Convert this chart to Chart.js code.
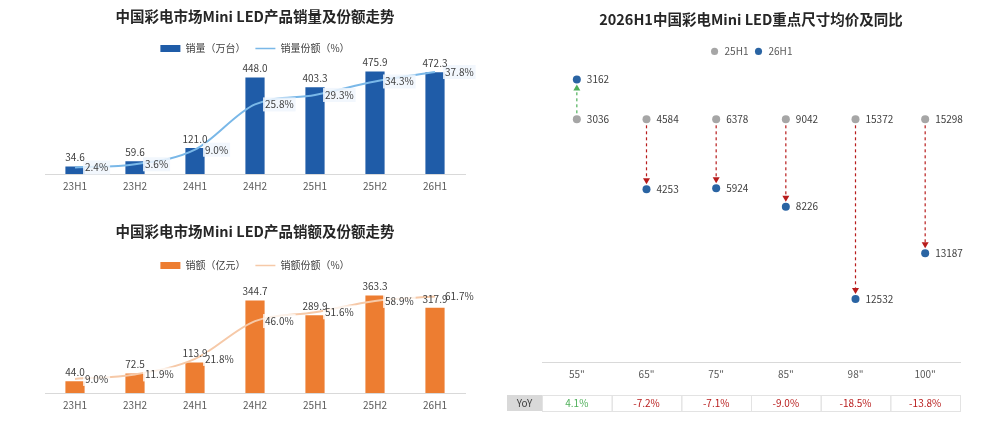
<!DOCTYPE html>
<html>
<head>
<meta charset="utf-8">
<script src="https://cdn.jsdelivr.net/npm/chart.js@4.4.1/dist/chart.umd.min.js"></script>
<style>
  html, body { margin: 0; padding: 0; background: #fff; }
  .box { position: absolute; }
</style>
</head>
<body>
<div class="box" style="left:0;top:0;width:500px;height:210px"><canvas id="volumeChart"></canvas></div>
<div class="box" style="left:0;top:210px;width:500px;height:216px"><canvas id="salesChart"></canvas></div>
<div class="box" style="left:500px;top:0;width:500px;height:426px"><canvas id="priceChart"></canvas></div>
<script>
// half-year periods
const periods = ['23H1', '23H2', '24H1', '24H2', '25H1', '25H2', '26H1'];
const volume = [34.6, 59.6, 121.0, 448.0, 403.3, 475.9, 472.3];
const volumeShare = [2.4, 3.6, 9.0, 25.8, 29.3, 34.3, 37.8];
const sales = [44.0, 72.5, 113.9, 344.7, 289.9, 363.3, 317.9];
const salesShare = [9.0, 11.9, 21.8, 46.0, 51.6, 58.9, 61.7];

// key sizes, average price and YoY
const sizes = ['55"', '65"', '75"', '85"', '98"', '100"'];
const price25 = [3036, 4584, 6378, 9042, 15372, 15298];
const price26 = [3162, 4253, 5924, 8226, 12532, 13187];
const yoy = [4.1, -7.2, -7.1, -9.0, -18.5, -13.8];

const FONT = '"Noto Sans CJK SC", "Noto Sans", sans-serif';

// share labels next to the line points, then value labels on the bars
const comboLabels = {
    id: 'comboLabels',
    afterDatasetsDraw(chart, args, opts) {
        const ctx = chart.ctx;
        ctx.save();
        ctx.font = '10px ' + FONT;
        const line = chart.getDatasetMeta(1);
        line.data.forEach((pt, i) => {
            const txt = chart.data.datasets[1].data[i].toFixed(1) + '%';
            const w = ctx.measureText(txt).width;
            ctx.fillStyle = opts.labelBg;
            ctx.fillRect(pt.x + 8, pt.y - 7, w + 4, 14);
            ctx.fillStyle = '#404040';
            ctx.textAlign = 'left';
            ctx.textBaseline = 'middle';
            ctx.fillText(txt, pt.x + 10, pt.y);
        });
        const bars = chart.getDatasetMeta(0);
        bars.data.forEach((bar, i) => {
            ctx.fillStyle = '#404040';
            ctx.textAlign = 'center';
            ctx.textBaseline = 'bottom';
            ctx.fillText(chart.data.datasets[0].data[i].toFixed(1), bar.x, bar.y - 4);
        });
        ctx.restore();
    }
};

function comboChart(id, title, barName, lineName, barData, lineData, barColor, lineColor, barMax, lineMax, titlePad, bottomPad, labelBg) {
    return new Chart(document.getElementById(id), {
        type: 'bar',
        data: {
            labels: periods,
            datasets: [
                {
                    label: barName,
                    data: barData,
                    backgroundColor: barColor,
                    borderWidth: 0,
                    barPercentage: 0.4,
                    categoryPercentage: 0.8,
                    yAxisID: 'y'
                },
                {
                    type: 'line',
                    label: lineName,
                    data: lineData,
                    borderColor: lineColor,
                    backgroundColor: lineColor,
                    borderWidth: 2,
                    pointRadius: 0,
                    cubicInterpolationMode: 'monotone',
                    order: -1,
                    yAxisID: 'y1'
                }
            ]
        },
        options: {
            responsive: true,
            maintainAspectRatio: false,
            animation: false,
            layout: { padding: { left: 45, right: 35, top: 0, bottom: bottomPad } },
            plugins: {
                title: {
                    display: true,
                    text: title,
                    color: '#262626',
                    font: { size: 14.5, weight: 'bold', family: FONT },
                    padding: titlePad
                },
                legend: {
                    labels: {
                        usePointStyle: true,
                        pointStyleWidth: 20,
                        boxHeight: 7,
                        padding: 10,
                        color: '#404040',
                        font: { size: 10, family: FONT },
                        sort: (a, b) => a.datasetIndex - b.datasetIndex,
                        generateLabels(chart) {
                            const items = Chart.defaults.plugins.legend.labels.generateLabels(chart);
                            items.forEach(it => {
                                if (it.datasetIndex === 0) {
                                    it.pointStyle = 'rect';
                                    it.lineWidth = 0;
                                } else {
                                    it.pointStyle = 'line';
                                    it.strokeStyle = lineColor;
                                    it.lineWidth = 1.5;
                                }
                            });
                            return items;
                        }
                    }
                },
                tooltip: { enabled: false },
                comboLabels: { labelBg: labelBg }
            },
            scales: {
                x: {
                    grid: { display: false, drawTicks: false },
                    border: { color: '#d9d9d9' },
                    ticks: { color: '#595959', padding: 6, font: { size: 10, family: FONT } }
                },
                y: { display: false, min: 0, max: barMax },
                y1: { display: false, min: 0, max: lineMax, position: 'right' }
            }
        },
        plugins: [comboLabels]
    });
}

comboChart('volumeChart', '中国彩电市场Mini LED产品销量及份额走势', '销量（万台）', '销量份额（%）',
    volume, volumeShare, '#1f5ca8', '#7ab8e8', 514, 41.0, { top: 8, bottom: 8 }, 12, 'rgba(240,246,253,0.85)');

comboChart('salesChart', '中国彩电市场Mini LED产品销额及份额走势', '销额（亿元）', '销额份额（%）',
    sales, salesShare, '#ed7d31', '#f6c9a8', 420, 72, { top: 13, bottom: 10 }, 9, 'rgba(255,255,255,0.75)');

// dashed arrows from the 25H1 dot to the 26H1 dot
const priceArrows = {
    id: 'priceArrows',
    beforeDatasetsDraw(chart) {
        const ctx = chart.ctx;
        const from = chart.getDatasetMeta(0).data;
        const to = chart.getDatasetMeta(1).data;
        from.forEach((p, i) => {
            const q = to[i];
            const dir = q.y < p.y ? -1 : 1;
            const color = dir < 0 ? '#4fb05a' : '#b81c1c';
            const tipY = q.y - dir * 5;
            const baseY = tipY - dir * 6;
            ctx.save();
            ctx.strokeStyle = color;
            ctx.lineWidth = 1.2;
            ctx.setLineDash([3, 3]);
            ctx.beginPath();
            ctx.moveTo(p.x, p.y + dir * 6);
            ctx.lineTo(p.x, baseY);
            ctx.stroke();
            ctx.setLineDash([]);
            ctx.fillStyle = color;
            ctx.beginPath();
            ctx.moveTo(p.x, tipY);
            ctx.lineTo(p.x - 3.5, baseY);
            ctx.lineTo(p.x + 3.5, baseY);
            ctx.closePath();
            ctx.fill();
            ctx.restore();
        });
    }
};

// price text next to each dot
const priceLabels = {
    id: 'priceLabels',
    afterDatasetsDraw(chart) {
        const ctx = chart.ctx;
        const prices = [price25, price26];
        ctx.save();
        ctx.font = '10px ' + FONT;
        ctx.fillStyle = '#404040';
        ctx.textAlign = 'left';
        ctx.textBaseline = 'middle';
        [0, 1].forEach(d => {
            chart.getDatasetMeta(d).data.forEach((pt, i) => {
                ctx.fillText(String(prices[d][i]), pt.x + 10, pt.y);
            });
        });
        ctx.restore();
    }
};

// YoY row under the size axis
const yoyTable = {
    id: 'yoyTable',
    afterDraw(chart) {
        const ctx = chart.ctx;
        const x = chart.scales.x;
        const top = chart.chartArea.bottom + 33;
        const h = 16;
        const half = (x.getPixelForValue(1) - x.getPixelForValue(0)) / 2;
        const left = x.getPixelForValue(0) - half;
        ctx.save();
        ctx.fillStyle = '#d9d9d9';
        ctx.fillRect(7, top, left - 7, h);
        ctx.font = '10px ' + FONT;
        ctx.textAlign = 'center';
        ctx.textBaseline = 'middle';
        ctx.fillStyle = '#404040';
        ctx.fillText('YoY', (7 + left) / 2, top + h / 2);
        ctx.strokeStyle = '#e3e3e3';
        ctx.lineWidth = 1;
        yoy.forEach((v, i) => {
            const cx = x.getPixelForValue(i);
            ctx.strokeRect(cx - half + 0.5, top + 0.5, half * 2, h);
            ctx.fillStyle = v >= 0 ? '#4fb05a' : '#b81c1c';
            ctx.fillText(v.toFixed(1) + '%', cx, top + h / 2);
        });
        ctx.restore();
    }
};

new Chart(document.getElementById('priceChart'), {
    type: 'line',
    data: {
        labels: sizes,
        datasets: [
            {
                label: '25H1',
                // 25H1 sits on the zero line of the YoY axis
                data: price25.map(() => 0),
                showLine: false,
                pointRadius: 4,
                pointBorderWidth: 0,
                pointBackgroundColor: '#a6a6a6',
                backgroundColor: '#a6a6a6',
                borderColor: '#a6a6a6'
            },
            {
                label: '26H1',
                data: yoy,
                showLine: false,
                pointRadius: 4,
                pointBorderWidth: 0,
                pointBackgroundColor: '#2a64a3',
                backgroundColor: '#2a64a3',
                borderColor: '#2a64a3'
            }
        ]
    },
    options: {
        responsive: true,
        maintainAspectRatio: false,
        animation: false,
        layout: { padding: { left: 42, right: 40, top: 0, bottom: 40 } },
        plugins: {
            title: {
                display: true,
                text: '2026H1中国彩电Mini LED重点尺寸均价及同比',
                color: '#262626',
                font: { size: 14.5, weight: 'bold', family: FONT },
                padding: { top: 11, bottom: 13 }
            },
            legend: {
                labels: {
                    usePointStyle: true,
                    pointStyle: 'circle',
                    boxHeight: 5,
                    padding: 5,
                    color: '#595959',
                    font: { size: 10, family: FONT }
                }
            },
            tooltip: { enabled: false }
        },
        scales: {
            x: {
                offset: true,
                grid: { display: false, drawTicks: false },
                border: { color: '#d9d9d9' },
                ticks: { color: '#595959', padding: 6, font: { size: 10, family: FONT } }
            },
            y: { display: false, min: -25.0, max: 5.45 }
        }
    },
    plugins: [priceArrows, priceLabels, yoyTable]
});
</script>
</body>
</html>
